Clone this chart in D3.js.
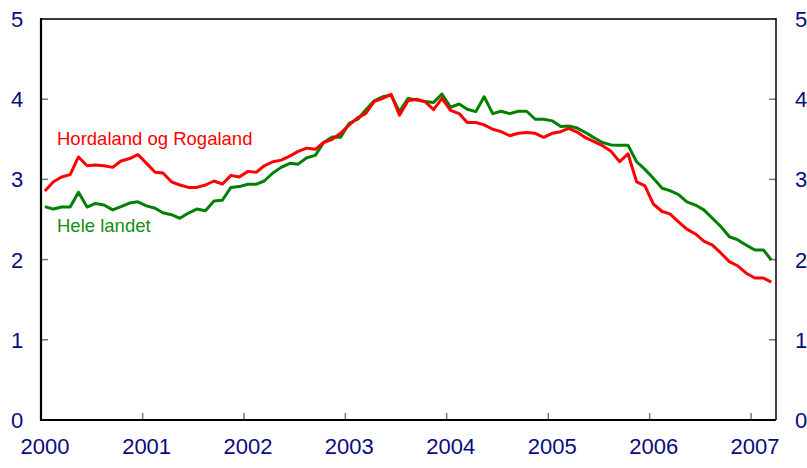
<!DOCTYPE html>
<html>
<head>
<meta charset="utf-8">
<script src="https://cdn.jsdelivr.net/npm/d3@7/dist/d3.min.js"></script>
<style>
  html, body { margin: 0; padding: 0; background: #fff; }
  svg { display: block; font-family: Arial, "Liberation Sans", sans-serif; }
</style>
</head>
<body>
<svg id="chart" width="807" height="468"></svg>
<script>
// Monthly observations, January 2000 – March 2007
const startMonth = "2000-01";
const seriesNames = ["Hordaland og Rogaland", "Hele landet"];
const hordalandRogaland = [
  2.855, 2.97, 3.03, 3.06, 3.28, 3.17, 3.18, 3.17, 3.15, 3.23, 3.26, 3.31,
  3.20, 3.09, 3.08, 2.97, 2.93, 2.90, 2.90, 2.93, 2.98, 2.94, 3.05, 3.03,
  3.10, 3.09, 3.17, 3.22, 3.24, 3.29, 3.35, 3.39, 3.375, 3.46, 3.50, 3.575,
  3.68, 3.77, 3.82, 3.97, 4.01, 4.06, 3.80, 3.98, 4.00, 3.97, 3.87, 4.01,
  3.86, 3.82, 3.71, 3.71, 3.68, 3.625, 3.595, 3.545, 3.575, 3.585, 3.575, 3.525,
  3.575, 3.595, 3.635, 3.59, 3.52, 3.47, 3.42, 3.35, 3.22, 3.32, 2.97, 2.92,
  2.69, 2.60, 2.57, 2.47, 2.38, 2.32, 2.23, 2.18, 2.08, 1.975, 1.92, 1.83,
  1.77, 1.77, 1.72
];
const heleLandet = [
  2.66, 2.63, 2.655, 2.655, 2.84, 2.655, 2.70, 2.68, 2.62, 2.66, 2.705, 2.72,
  2.67, 2.64, 2.585, 2.56, 2.515, 2.58, 2.63, 2.61, 2.73, 2.74, 2.90, 2.91,
  2.94, 2.94, 2.98, 3.08, 3.15, 3.20, 3.19, 3.27, 3.30, 3.46, 3.53, 3.525,
  3.70, 3.75, 3.865, 3.98, 4.03, 4.05, 3.845, 4.01, 3.99, 3.97, 3.96, 4.065,
  3.90, 3.94, 3.875, 3.845, 4.03, 3.82, 3.85, 3.82, 3.85, 3.85, 3.75, 3.75,
  3.73, 3.66, 3.665, 3.64, 3.585, 3.52, 3.46, 3.43, 3.425, 3.425, 3.22, 3.125,
  3.01, 2.89, 2.86, 2.81, 2.72, 2.68, 2.62, 2.515, 2.41, 2.285, 2.245, 2.18,
  2.12, 2.12, 1.995
];
const yearTicks = [2000, 2001, 2002, 2003, 2004, 2005, 2006, 2007];
const yTicks = [0, 1, 2, 3, 4, 5];

(function () {
const svg = d3.select("#chart");
const pLeft = 41, pRight = 776, pTop = 19, pBottom = 420;
const navy = "#0a0a80";

const parseMonth = d3.timeParse("%Y-%m");
const t0 = parseMonth(startMonth);
const dates = hordalandRogaland.map((_, i) => d3.timeDay.offset(d3.timeMonth.offset(t0, i), 14));

const x = d3.scaleTime()
  .domain([new Date(2000, 0, 1), new Date(2007, 3, 1)])
  .range([pLeft, pRight]);
const y = d3.scaleLinear().domain([0, 5]).range([pBottom, pTop]);

// ticks
const yearDates = yearTicks.map(yr => new Date(yr, 0, 1));
svg.append("g").selectAll("line").data(yearDates.slice(1)).join("line")
  .attr("x1", d => x(d)).attr("x2", d => x(d))
  .attr("y1", pBottom).attr("y2", pBottom - 7)
  .attr("stroke", "#777").attr("stroke-width", 1.5);
svg.append("g").selectAll("line").data(yTicks.slice(1, -1)).join("line")
  .attr("x1", pLeft).attr("x2", pLeft + 7)
  .attr("y1", d => y(d)).attr("y2", d => y(d))
  .attr("stroke", "#777").attr("stroke-width", 1.5);
svg.append("g").selectAll("line").data(yTicks.slice(1, -1)).join("line")
  .attr("x1", pRight).attr("x2", pRight - 7)
  .attr("y1", d => y(d)).attr("y2", d => y(d))
  .attr("stroke", "#777").attr("stroke-width", 1.5);

// frame
svg.append("line").attr("x1", pLeft).attr("x2", pRight).attr("y1", pTop).attr("y2", pTop)
  .attr("stroke", "#3a3a3a").attr("stroke-width", 2);
svg.append("line").attr("x1", pRight).attr("x2", pRight).attr("y1", pTop - 1).attr("y2", pBottom)
  .attr("stroke", "#000").attr("stroke-width", 1.5);
svg.append("line").attr("x1", pLeft).attr("x2", pLeft).attr("y1", pTop - 1).attr("y2", pBottom + 1)
  .attr("stroke", "#000").attr("stroke-width", 2.2);
svg.append("line").attr("x1", pLeft).attr("x2", pRight).attr("y1", pBottom).attr("y2", pBottom)
  .attr("stroke", "#000").attr("stroke-width", 2.2);

// lines
const line = d3.line().x((d, i) => x(dates[i])).y(d => y(d));
svg.append("path").datum(heleLandet).attr("d", line)
  .attr("fill", "none").attr("stroke", "#008000").attr("stroke-width", 3)
  .attr("stroke-linejoin", "round");
svg.append("path").datum(hordalandRogaland).attr("d", line)
  .attr("fill", "none").attr("stroke", "#ff0000").attr("stroke-width", 3)
  .attr("stroke-linejoin", "round");

// axis labels
svg.append("g").selectAll("text").data(yTicks).join("text")
  .attr("x", 17).attr("y", d => y(d) + 8)
  .attr("text-anchor", "middle").attr("fill", navy)
  .attr("font-size", 22).text(d => d);
svg.append("g").selectAll("text").data(yTicks).join("text")
  .attr("x", 795).attr("y", d => y(d) + 8)
  .attr("text-anchor", "start").attr("fill", navy)
  .attr("font-size", 22).text(d => d);
svg.append("g").selectAll("text").data(yearDates).join("text")
  .attr("x", d => x(d) + 4).attr("y", 454)
  .attr("text-anchor", "middle").attr("fill", navy)
  .attr("font-size", 22).text((d, i) => yearTicks[i]);

// series labels
svg.append("text").attr("x", 57).attr("y", 145).attr("fill", "#ff0000")
  .attr("font-size", 18.5).text(seriesNames[0]);
svg.append("text").attr("x", 57).attr("y", 232).attr("fill", "#109010")
  .attr("font-size", 18.5).text(seriesNames[1]);
})();
</script>
</body>
</html>
